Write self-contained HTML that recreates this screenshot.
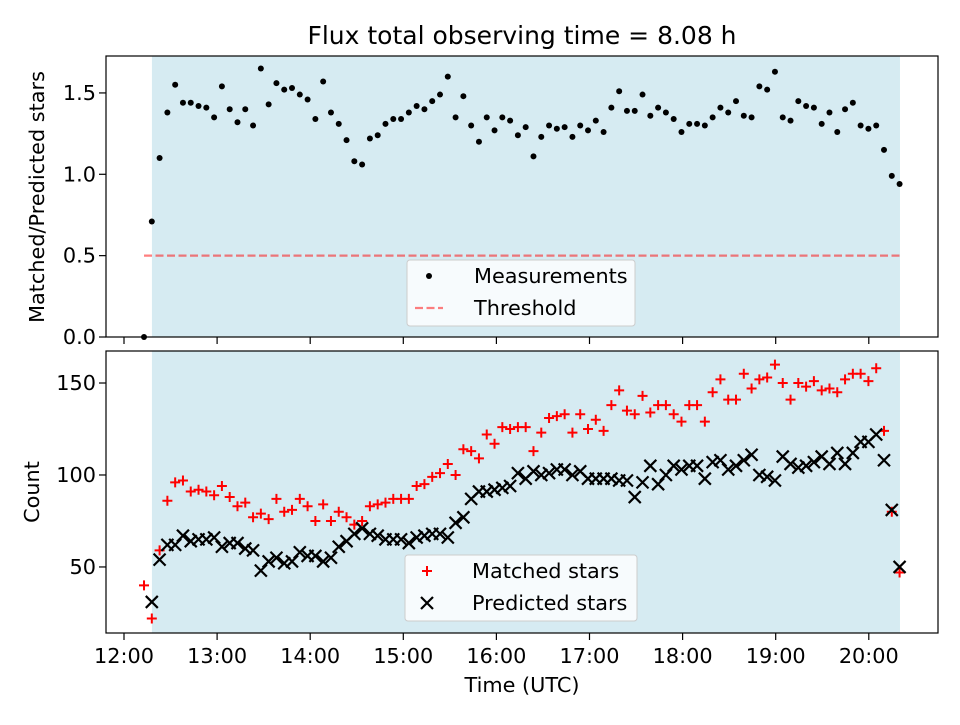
<!DOCTYPE html>
<html><head><meta charset="utf-8"><style>
body{margin:0;background:#fff;font-family:"Liberation Sans","DejaVu Sans",sans-serif}
svg text{font-family:"DejaVu Sans","Liberation Sans",sans-serif;fill:#000}
</style></head><body>
<svg id="c" width="960" height="720" viewBox="0 0 960 720" xmlns="http://www.w3.org/2000/svg">
<rect width="960" height="720" fill="#fff"/>
<text x="522" y="44" style="font-size:25px" text-anchor="middle">Flux total observing time = 8.08 h</text>
<text transform="translate(44,197) rotate(-90)" style="font-size:20.8px" text-anchor="middle">Matched/Predicted stars</text>
<text transform="translate(39,492) rotate(-90)" style="font-size:20.8px" text-anchor="middle">Count</text>
<text x="522" y="692" style="font-size:20.8px" text-anchor="middle">Time (UTC)</text>
</svg>
<script>
const ratio=[0,.71,1.10,1.38,1.55,1.44,1.44,1.42,1.41,1.35,1.54,1.40,1.32,1.40,1.30,1.65,1.43,1.56,1.52,1.53,1.49,1.46,1.34,1.57,1.38,1.31,1.21,1.08,1.06,1.22,1.24,1.31,1.34,1.34,1.38,1.42,1.40,1.45,1.49,1.60,1.35,1.48,1.30,1.20,1.35,1.27,1.35,1.33,1.24,1.29,1.11,1.23,1.30,1.28,1.29,1.23,1.30,1.27,1.33,1.26,1.41,1.51,1.39,1.39,1.49,1.36,1.41,1.38,1.34,1.26,1.31,1.31,1.30,1.35,1.41,1.38,1.45,1.36,1.35,1.54,1.52,1.63,1.35,1.33,1.45,1.42,1.41,1.31,1.38,1.26,1.40,1.44,1.30,1.28,1.30,1.15,0.99,0.94];
const predicted=[null,31,54,62,62,67,64,65,65,66,61,63,63,60,59,48,53,55,52,53,58,56,56,53,55,61,64,68,71,68,67,65,65,65,63,66,67,68,68,66,74,77,87,91,91,92,93,94,101,98,102,100,101,103,103,100,102,98,98,98,98,97,97,88,96,105,95,100,105,103,105,105,98,107,108,103,105,108,111,100,99,97,110,106,104,105,107,110,106,112,106,112,118,118,122,108,81,50];
const matched=[40,22,59,86,96,97,91,92,91,89,94,88,83,85,77,79,76,87,80,81,87,83,75,84,75,80,77,73,75,83,84,85,87,87,87,94,95,99,101,106,100,114,113,109,122,117,126,125,126,126,113,123,131,132,133,123,133,125,130,124,138,146,135,133,143,134,138,138,133,129,138,138,129,145,152,141,141,155,147,152,153,160,150,141,150,148,151,146,147,145,152,155,155,151,158,124,80,47];
const startMin=12.9, stepMin=5.02, shadeStart=18.0, shadeEnd=500.1, threshold=0.5;
const xTicks=["12:00","13:00","14:00","15:00","16:00","17:00","18:00","19:00","20:00"];
const topTicks=[0,0.5,1.0,1.5], botTicks=[50,100,150];
const times=ratio.map((_,i)=>startMin+stepMin*i);

const svg=document.getElementById('c'),NS='http://www.w3.org/2000/svg';
function mk(tag,attrs,parent){const e=document.createElementNS(NS,tag);for(const k in attrs)e.setAttribute(k,attrs[k]);(parent||svg).appendChild(e);return e;}
const L=106,R=938,T1=56,B1=337,T2=351,B2=633;
const xs=t=>L+(t+11.6)/(524.6+11.6)*(R-L);
const y1=v=>B1-v/1.727*(B1-T1);
const y2=v=>B2-(v-14.1)/(167.4-14.1)*(B2-T2);
const FS='font-size:20.8px';

function panel(T,B,name){
  const g=mk('g',{});
  
  
  mk('rect',{x:L,y:T,width:R-L,height:B-T,fill:'#fff'},g);
  const sh=mk('rect',{x:xs(shadeStart),y:T,width:xs(shadeEnd)-xs(shadeStart),height:B-T,fill:'#add8e6','fill-opacity':0.5},g);
  
  
  return g;
}
const gTop=panel(T1,B1,'top-panel');
const gBot=panel(T2,B2,'bottom-panel');

const th=mk('line',{x1:xs(times[0]),x2:xs(times[times.length-1]),y1:y1(threshold),y2:y1(threshold),stroke:'#ff0000','stroke-opacity':0.5,'stroke-width':2.2,'stroke-dasharray':'8,3.5'},gTop);


ratio.forEach((v,i)=>{const c=mk('circle',{cx:xs(times[i]),cy:y1(v),r:3,fill:'#000'},gTop);

});
matched.forEach((v,i)=>{if(v==null)return;const x=xs(times[i]),y=y2(v);
const p=mk('path',{d:`M${x-5} ${y}H${x+5}M${x} ${y-5}V${y+5}`,stroke:'#f00','stroke-width':2},gBot);

});
predicted.forEach((v,i)=>{if(v==null)return;const x=xs(times[i]),y=y2(v);
const p=mk('path',{d:`M${x-6} ${y-6}L${x+6} ${y+6}M${x-6} ${y+6}L${x+6} ${y-6}`,stroke:'#000','stroke-width':2.2},gBot);

});

[[T1,B1],[T2,B2]].forEach(([T,B],pi)=>{
  const f=mk('rect',{x:L,y:T,width:R-L,height:B-T,fill:'none',stroke:'#000','stroke-width':1.2});
  
  
  xTicks.forEach((lab,i)=>{const x=xs(i*60);mk('line',{x1:x,x2:x,y1:B,y2:B+7,stroke:'#000','stroke-width':1.2});
    if(pi){const t=mk('text',{x:x,y:B+30,style:FS,'text-anchor':'middle'});t.textContent=lab;
    
    }});
});
topTicks.forEach(v=>{const y=y1(v);mk('line',{x1:L-7,x2:L,y1:y,y2:y,stroke:'#000','stroke-width':1.2});
const t=mk('text',{x:L-10,y:y+7,style:FS,'text-anchor':'end'});t.textContent=v.toFixed(1);

});
botTicks.forEach(v=>{const y=y2(v);mk('line',{x1:L-7,x2:L,y1:y,y2:y,stroke:'#000','stroke-width':1.2});
const t=mk('text',{x:L-10,y:y+7,style:FS,'text-anchor':'end'});t.textContent=v;

});

function legend(x,y,w,h,name,entries){
  const g=mk('g',{});
  
  
  mk('rect',{x:x,y:y,width:w,height:h,rx:3,fill:'#fff','fill-opacity':0.8,stroke:'#ccc'},g);
  entries.forEach((e,i)=>{const cy=y+16+i*32;const cx=x+22;
    if(e.k==='dot')mk('circle',{cx:cx,cy:cy,r:3,fill:'#000'},g);
    if(e.k==='dash')mk('line',{x1:cx-14,x2:cx+14,y1:cy,y2:cy,stroke:'#f00','stroke-opacity':0.5,'stroke-width':2.2,'stroke-dasharray':'8,3.5'},g);
    if(e.k==='plus')mk('path',{d:`M${cx-5} ${cy}H${cx+5}M${cx} ${cy-5}V${cy+5}`,stroke:'#f00','stroke-width':2},g);
    if(e.k==='x')mk('path',{d:`M${cx-6} ${cy-6}L${cx+6} ${cy+6}M${cx-6} ${cy+6}L${cx+6} ${cy-6}`,stroke:'#000','stroke-width':2.2},g);
    const t=mk('text',{x:x+67,y:cy+7,style:FS},g);t.textContent=e.t;
    
    });
}
legend(407,260,228,66,'top-legend',[{k:'dot',t:'Measurements'},{k:'dash',t:'Threshold'}]);
legend(405,555,232,66,'bottom-legend',[{k:'plus',t:'Matched stars'},{k:'x',t:'Predicted stars'}]);
</script>
</body></html>
